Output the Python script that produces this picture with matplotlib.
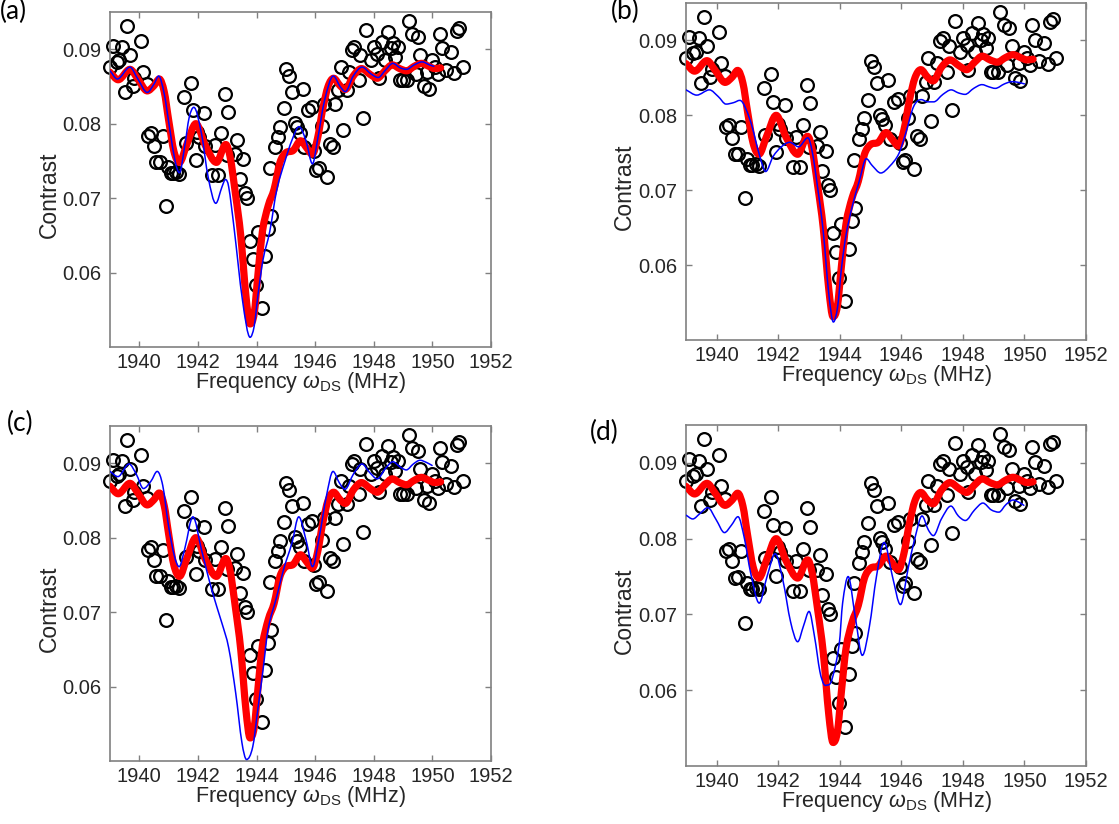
import numpy as np
import matplotlib
matplotlib.use("Agg")
import matplotlib.pyplot as plt
from matplotlib.path import Path
from matplotlib.patches import PathPatch

plt.rcParams["font.family"] = ["Liberation Sans", "DejaVu Sans"]
plt.rcParams["mathtext.fontset"] = "custom"
plt.rcParams["mathtext.rm"] = "Liberation Sans"
plt.rcParams["mathtext.it"] = "Liberation Sans:italic"

# ---- measured contrast vs drive frequency (MHz) ----
freq = [1939.00, 1939.11, 1939.24, 1939.32, 1939.42, 1939.50, 1939.58, 1939.67, 1939.77, 1939.83,
        1940.06, 1940.14, 1940.26, 1940.31, 1940.41, 1940.49, 1940.58, 1940.70, 1940.80, 1940.91,
        1940.98, 1941.07, 1941.15, 1941.26, 1941.36, 1941.54, 1941.58, 1941.75, 1941.83, 1941.92,
        1941.98, 1942.04, 1942.21, 1942.24, 1942.47, 1942.59, 1942.69, 1942.79, 1942.94, 1943.03,
        1943.00, 1943.25, 1943.34, 1943.43, 1943.54, 1943.62, 1943.69, 1943.79, 1943.89, 1943.97,
        1944.05, 1944.18, 1944.29, 1944.38, 1944.48, 1944.47, 1944.62, 1944.73, 1944.80, 1944.92,
        1945.00, 1945.12, 1945.22, 1945.30, 1945.38, 1945.48, 1945.57, 1945.63, 1945.76, 1945.88,
        1945.95, 1946.04, 1946.13, 1946.23, 1946.29, 1946.41, 1946.51, 1946.60, 1946.68, 1946.79,
        1946.87, 1946.96, 1947.07, 1947.16, 1947.25, 1947.34, 1947.48, 1947.54, 1947.63, 1947.74,
        1947.89, 1948.01, 1948.12, 1948.18, 1948.28, 1948.39, 1948.50, 1948.59, 1948.65, 1948.74,
        1948.83, 1948.90, 1948.99, 1949.15, 1949.21, 1949.32, 1949.44, 1949.50, 1949.58, 1949.70,
        1949.81, 1949.87, 1949.99, 1950.08, 1950.19, 1950.26, 1950.34, 1950.48, 1950.63, 1950.75,
        1950.83, 1950.92, 1951.04]
contrast = [0.0876, 0.0905, 0.0883, 0.0885, 0.0903, 0.0843, 0.0931, 0.0892, 0.0851, 0.0862,
            0.0911, 0.0870, 0.0853, 0.0784, 0.0787, 0.0770, 0.0748, 0.0749, 0.0784, 0.0689,
            0.0742, 0.0734, 0.0734, 0.0735, 0.0733, 0.0836, 0.0774, 0.0855, 0.0818, 0.0751,
            0.0789, 0.0782, 0.0814, 0.0770, 0.0731, 0.0771, 0.0731, 0.0787, 0.0840, 0.0816,
            0.0758, 0.0759, 0.0778, 0.0726, 0.0753, 0.0707, 0.0700, 0.0643, 0.0618, 0.0583,
            0.0655, 0.0552, 0.0622, 0.0659, 0.0676, 0.0741, 0.0768, 0.0782, 0.0796, 0.0821,
            0.0873, 0.0864, 0.0843, 0.0801, 0.0795, 0.0787, 0.0847, 0.0769, 0.0818, 0.0822,
            0.0763, 0.0738, 0.0741, 0.0797, 0.0826, 0.0728, 0.0773, 0.0769, 0.0826, 0.0845,
            0.0876, 0.0792, 0.0845, 0.0870, 0.0899, 0.0903, 0.0858, 0.0892, 0.0807, 0.0926,
            0.0885, 0.0903, 0.0894, 0.0861, 0.0910, 0.0885, 0.0923, 0.0901, 0.0908, 0.0890,
            0.0903, 0.0858, 0.0858, 0.0858, 0.0938, 0.0921, 0.0867, 0.0917, 0.0892, 0.0850,
            0.0870, 0.0846, 0.0885, 0.0876, 0.0867, 0.0921, 0.0901, 0.0872, 0.0896, 0.0868,
            0.0925, 0.0928, 0.0876]

# ---- full model (red, shared by all panels) ----
model_f = [1939.00, 1939.28, 1939.68, 1939.95, 1940.27, 1940.50, 1940.68, 1940.85, 1941.00, 1941.18,
           1941.37, 1941.62, 1941.93, 1942.25, 1942.63, 1942.95, 1943.10, 1943.28, 1943.46, 1943.64,
           1943.78, 1943.92, 1944.05, 1944.20, 1944.40, 1944.60, 1944.80, 1945.00, 1945.25, 1945.50,
           1945.72, 1945.90, 1946.08, 1946.26, 1946.44, 1946.63, 1946.85, 1947.03, 1947.30, 1947.58,
           1947.88, 1948.12, 1948.38, 1948.63, 1948.88, 1949.12, 1949.38, 1949.63, 1949.88, 1950.08,
           1950.28]
model_c = [0.0869, 0.0859, 0.0873, 0.0860, 0.0844, 0.0851, 0.0860, 0.0843, 0.0805, 0.0763,
           0.0748, 0.0772, 0.0800, 0.0771, 0.0748, 0.0772, 0.0755, 0.0706, 0.0650, 0.0568,
           0.0531, 0.0545, 0.0598, 0.0655, 0.0690, 0.0712, 0.0748, 0.0761, 0.0764, 0.0777,
           0.0767, 0.0759, 0.0780, 0.0820, 0.0850, 0.0861, 0.0851, 0.0846, 0.0864, 0.0874,
           0.0866, 0.0861, 0.0871, 0.0879, 0.0874, 0.0871, 0.0877, 0.0881, 0.0877, 0.0874,
           0.0875]

# ---- reduced models (blue), one per panel ----
alt_a_f = [1939.00, 1939.25, 1939.68, 1939.95, 1940.27, 1940.50, 1940.66, 1940.85, 1941.05, 1941.22,
           1941.37, 1941.55, 1941.70, 1941.86, 1942.12, 1942.35, 1942.61, 1942.82, 1942.94, 1943.05,
           1943.23, 1943.52, 1943.78, 1943.92, 1944.05, 1944.22, 1944.45, 1944.69, 1944.98, 1945.21,
           1945.45, 1945.68, 1945.91, 1946.08, 1946.32, 1946.62, 1946.85, 1947.03, 1947.30, 1947.60,
           1947.90, 1948.15, 1948.40, 1948.65, 1948.90, 1949.12, 1949.38, 1949.65, 1949.90, 1950.05]
alt_a_c = [0.0871, 0.0860, 0.0876, 0.0860, 0.0842, 0.0853, 0.0864, 0.0840, 0.0790, 0.0750,
           0.0734, 0.0770, 0.0808, 0.0822, 0.0787, 0.0728, 0.0693, 0.0715, 0.0725, 0.0715,
           0.0661, 0.0563, 0.0513, 0.0528, 0.0570, 0.0617, 0.0655, 0.0711, 0.0751, 0.0778,
           0.0796, 0.0778, 0.0746, 0.0778, 0.0831, 0.0864, 0.0850, 0.0843, 0.0864, 0.0876,
           0.0867, 0.0862, 0.0872, 0.0881, 0.0875, 0.0873, 0.0879, 0.0883, 0.0879, 0.0877]

alt_b_f = [1939.00, 1939.35, 1939.76, 1940.05, 1940.30, 1940.55, 1940.75, 1941.08, 1941.40, 1941.59,
           1941.83, 1942.10, 1942.37, 1942.66, 1942.96, 1943.10, 1943.28, 1943.46, 1943.64, 1943.79,
           1943.93, 1944.05, 1944.20, 1944.40, 1944.63, 1944.86, 1945.05, 1945.33, 1945.62, 1945.92,
           1946.14, 1946.40, 1946.65, 1946.85, 1947.05, 1947.35, 1947.62, 1947.85, 1948.07, 1948.35,
           1948.62, 1948.85, 1949.05, 1949.35, 1949.60, 1949.80, 1950.00]
alt_b_c = [0.0834, 0.0827, 0.0834, 0.0825, 0.0815, 0.0817, 0.0820, 0.0794, 0.0745, 0.0725,
           0.0745, 0.0758, 0.0764, 0.0758, 0.0770, 0.0752, 0.0703, 0.0645, 0.0562, 0.0524,
           0.0545, 0.0595, 0.0640, 0.0678, 0.0712, 0.0742, 0.0733, 0.0723, 0.0732, 0.0749,
           0.0776, 0.0812, 0.0821, 0.0818, 0.0818, 0.0828, 0.0834, 0.0830, 0.0828, 0.0836,
           0.0841, 0.0838, 0.0836, 0.0842, 0.0845, 0.0844, 0.0842]

alt_c_f = [1939.00, 1939.27, 1939.65, 1939.90, 1940.14, 1940.40, 1940.61, 1940.80, 1941.00, 1941.20,
           1941.36, 1941.55, 1941.83, 1942.12, 1942.47, 1942.82, 1943.05, 1943.29, 1943.50, 1943.66,
           1943.87, 1944.04, 1944.22, 1944.39, 1944.69, 1944.92, 1945.21, 1945.44, 1945.70, 1945.91,
           1946.14, 1946.38, 1946.61, 1946.82, 1947.02, 1947.30, 1947.60, 1947.85, 1948.12, 1948.40,
           1948.65, 1948.90, 1949.11, 1949.35, 1949.58, 1949.80, 1949.99]
alt_c_c = [0.0889, 0.0882, 0.0899, 0.0885, 0.0866, 0.0876, 0.0889, 0.0870, 0.0815, 0.0775,
           0.0761, 0.0785, 0.0828, 0.0784, 0.0730, 0.0685, 0.0652, 0.0591, 0.0525, 0.0502,
           0.0519, 0.0568, 0.0622, 0.0676, 0.0721, 0.0757, 0.0793, 0.0828, 0.0795, 0.0761,
           0.0801, 0.0855, 0.0889, 0.0874, 0.0865, 0.0885, 0.0899, 0.0888, 0.0879, 0.0893,
           0.0902, 0.0895, 0.0891, 0.0899, 0.0904, 0.0901, 0.0897]

alt_d_f = [1939.00, 1939.22, 1939.45, 1939.71, 1939.98, 1940.25, 1940.48, 1940.69, 1940.90, 1941.10,
           1941.38, 1941.62, 1941.90, 1942.15, 1942.40, 1942.63, 1942.82, 1943.00, 1943.18, 1943.35,
           1943.48, 1943.62, 1943.75, 1943.98, 1944.09, 1944.27, 1944.50, 1944.73, 1944.96, 1945.19,
           1945.44, 1945.71, 1945.97, 1946.23, 1946.46, 1946.67, 1946.87, 1947.04, 1947.30, 1947.61,
           1947.85, 1948.08, 1948.38, 1948.65, 1948.92, 1949.17, 1949.40, 1949.63, 1949.82, 1949.98]
alt_d_c = [0.0831, 0.0826, 0.0833, 0.0841, 0.0825, 0.0808, 0.0818, 0.0829, 0.0800, 0.0755,
           0.0715, 0.0748, 0.0780, 0.0745, 0.0690, 0.0664, 0.0685, 0.0704, 0.0670, 0.0625,
           0.0608, 0.0607, 0.0615, 0.0661, 0.0715, 0.0750, 0.0697, 0.0646, 0.0684, 0.0750,
           0.0795, 0.0750, 0.0713, 0.0763, 0.0804, 0.0830, 0.0812, 0.0804, 0.0826, 0.0843,
           0.0830, 0.0824, 0.0838, 0.0847, 0.0838, 0.0835, 0.0845, 0.0851, 0.0848, 0.0844]

panel_tags = ["(a)", "(b)", "(c)", "(d)"]
alt_curves = [(alt_a_f, alt_a_c), (alt_b_f, alt_b_c), (alt_c_f, alt_c_c), (alt_d_f, alt_d_c)]
x_ticks = [1940, 1942, 1944, 1946, 1948, 1950, 1952]
y_ticks = [0.06, 0.07, 0.08, 0.09]

W, H = 1119, 824
# axes boxes in pixels: left, top, right, bottom
boxes = [(110, 12, 491, 347), (686, 3, 1086, 340),
         (110, 426, 491, 761), (686, 425, 1086, 766)]
tag_pos = [(0, -1), (611, -1), (7, 411), (590, 420)]


def smooth_path(xs, ys):
    """Cubic Hermite path through the knots, drawn as Bezier segments."""
    xs = np.asarray(xs, float)
    ys = np.asarray(ys, float)
    n = len(xs)
    m = np.zeros(n)
    m[1:-1] = (ys[2:] - ys[:-2]) / (xs[2:] - xs[:-2])
    m[0] = (ys[1] - ys[0]) / (xs[1] - xs[0])
    m[-1] = (ys[-1] - ys[-2]) / (xs[-1] - xs[-2])
    for i in range(1, n - 1):
        if (ys[i] - ys[i - 1]) * (ys[i + 1] - ys[i]) <= 0:
            m[i] = 0.0
    verts = [(xs[0], ys[0])]
    codes = [Path.MOVETO]
    for i in range(n - 1):
        h = xs[i + 1] - xs[i]
        verts += [(xs[i] + h / 3, ys[i] + m[i] * h / 3),
                  (xs[i + 1] - h / 3, ys[i + 1] - m[i + 1] * h / 3),
                  (xs[i + 1], ys[i + 1])]
        codes += [Path.CURVE4] * 3
    return Path(verts, codes)


fig = plt.figure(figsize=(W / 100, H / 100), dpi=100)
frame = "#808080"
txt = "#262626"

for k, (l, t, r, b) in enumerate(boxes):
    ax = fig.add_axes([l / W, 1 - b / H, (r - l) / W, (b - t) / H])
    ax.plot(freq, contrast, "o", mfc="none", mec="black", ms=9.2, mew=1.6,
            clip_on=False, zorder=2)
    ax.add_patch(PathPatch(smooth_path(model_f, model_c), fill=False,
                           edgecolor="#ff0000", lw=5.2, capstyle="round",
                           joinstyle="round", zorder=3))
    af, ac = alt_curves[k]
    ax.add_patch(PathPatch(smooth_path(af, ac), fill=False,
                           edgecolor="#0000ff", lw=1.1, capstyle="round",
                           joinstyle="round", zorder=4))
    ax.set_xlim(1939, 1952)
    ax.set_ylim(0.050, 0.095)
    ax.set_xticks(x_ticks)
    ax.set_yticks(y_ticks)
    ax.set_yticklabels(["%.2f" % v for v in y_ticks])
    for s in ax.spines.values():
        s.set_color(frame)
        s.set_linewidth(1.2)
    ax.tick_params(direction="in", top=True, right=True, length=4.5,
                   width=1.0, color=frame, labelcolor=txt, labelsize=14.5)
    ax.tick_params(axis="x", pad=4)
    ax.tick_params(axis="y", pad=6)
    ax.set_xlabel(r"Frequency $\omega_{\mathrm{DS}}$ (MHz)", fontsize=15.5,
                  color=txt, labelpad=-1)
    ax.set_ylabel("Contrast", fontsize=16.5, color=txt)
    ax.yaxis.set_label_coords((61 - l) / (r - l) if l < 300 else (636 - l) / (r - l),
                              0.455)
    fig.text(tag_pos[k][0] / W, 1 - tag_pos[k][1] / H, panel_tags[k],
             fontsize=19, family=["Lato", "DejaVu Sans"], va="top", ha="left",
             color="black")

fig.savefig("out.png", dpi=100, facecolor="white")
